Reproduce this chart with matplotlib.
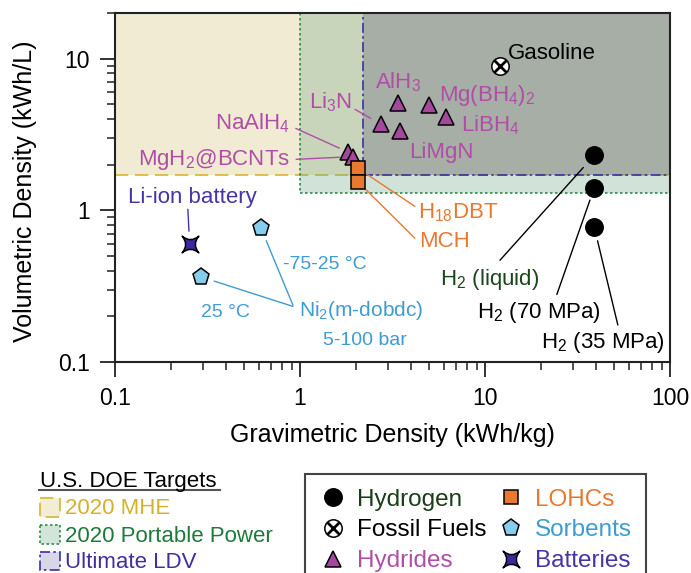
import numpy as np
import matplotlib
matplotlib.use('Agg')
import matplotlib.pyplot as plt
from matplotlib.patches import Rectangle
from matplotlib.path import Path
from matplotlib.lines import Line2D
from matplotlib.legend_handler import HandlerTuple
from matplotlib.colors import to_rgba
from matplotlib.ticker import FuncFormatter, NullFormatter, LogLocator

plt.rcParams['font.family'] = ['Liberation Sans', 'DejaVu Sans']
plt.rcParams['mathtext.default'] = 'regular'

# ---------------- data ----------------
x_lim = [0.1, 100]
y_lim = [0.1, 20]
x_ticks = [0.1, 1, 10, 100]
y_ticks = [0.1, 1, 10]

target_names = ['2020 MHE', '2020 Portable Power', 'Ultimate LDV']
target_grav = [0.1, 1.0, 2.2]
target_vol = [1.7, 1.3, 1.7]

hydrogen_names = ['H$_2$ (liquid)', 'H$_2$ (70 MPa)', 'H$_2$ (35 MPa)']
hydrogen_grav = [38.9, 38.9, 38.9]
hydrogen_vol = [2.30, 1.40, 0.78]

fossil_names = ['Gasoline']
fossil_grav = [12.0]
fossil_vol = [8.9]

hydride_names = ['AlH$_3$', 'Mg(BH$_4$)$_2$', 'LiBH$_4$', 'LiMgN', 'Li$_3$N',
                 'NaAlH$_4$', 'MgH$_2$@BCNTs']
hydride_grav = [3.37, 4.98, 6.17, 3.47, 2.74, 1.82, 1.93]
hydride_vol = [5.07, 4.94, 4.13, 3.33, 3.69, 2.42, 2.26]

lohc_names = ['H$_{18}$DBT', 'MCH']
lohc_grav = [2.06, 2.06]
lohc_vol = [1.89, 1.54]

sorbent_names = ['-75-25 °C', '25 °C']
sorbent_grav = [0.614, 0.292]
sorbent_vol = [0.769, 0.364]
sorbent_material = 'Ni$_2$(m-dobdc)'
sorbent_pressure = '5-100 bar'

battery_names = ['Li-ion battery']
battery_grav = [0.253]
battery_vol = [0.599]

legend_names = ['Hydrogen', 'Fossil Fuels', 'Hydrides', 'LOHCs', 'Sorbents', 'Batteries']

# ---------------- styles ----------------
c_hyd_m = '#A5479D'; c_hyd_t = '#B04EA7'
c_lohc = '#E8792F'
c_sorb_m = '#86CDEE'; c_sorb_t = '#3E9CD0'
c_bat_m = '#3A2A9A'; c_bat_t = '#4536A6'
c_h2liq = '#1C461C'
region_face = ['#D7C073', '#69A580', '#5A567B']
region_edge = ['#D6B62E', '#2E8B4E', '#3833A0']
region_ls = [(0, (8, 4)), (0, (1.5, 1.5)), (0, (6, 2, 1.5, 2))]
legend_patch_face = ['#F3EDD6', '#D2E5DA', '#D9D6EA']
legend_text_col = ['#D4B12A', '#1E7A3A', '#3F30A0']

# concave 4-point star marker
star_path = Path(
    [(-1, 1), (0, 0.15), (1, 1), (0.15, 0), (1, -1), (0, -0.15), (-1, -1), (-0.15, 0), (-1, 1), (-1, 1)],
    [Path.MOVETO, Path.CURVE3, Path.CURVE3, Path.CURVE3, Path.CURVE3,
     Path.CURVE3, Path.CURVE3, Path.CURVE3, Path.CURVE3, Path.CLOSEPOLY])

W, H = 691, 573
fig = plt.figure(figsize=(W / 100, H / 100), dpi=100)
ax = fig.add_axes([115 / W, 1 - 362 / H, 555 / W, 349 / H])
ax.set_xscale('log'); ax.set_yscale('log')
ax.set_xlim(x_lim); ax.set_ylim(y_lim)

# target regions
for g, v, fc, ec, ls in zip(target_grav, target_vol, region_face, region_edge, region_ls):
    ax.add_patch(Rectangle((g, v), x_lim[1] - g, y_lim[1] - v,
                           facecolor=to_rgba(fc, 0.3), edgecolor=ec, linestyle=ls,
                           lw=1.2, zorder=1))

mk = dict(ls='none', mec='black', mew=1.1, zorder=6)
ax.plot(hydrogen_grav, hydrogen_vol, marker='o', ms=12.5, mfc='black', **mk)
ax.plot(fossil_grav, fossil_vol, marker='o', ms=12.5, mfc='white', **mk)
ax.plot(fossil_grav, fossil_vol, ls='none', marker='x', ms=8, mew=2, color='black', zorder=7)
ax.plot(hydride_grav, hydride_vol, marker='^', ms=12, mfc=c_hyd_m, **mk)
ax.plot(lohc_grav, lohc_vol, marker='s', ms=10.5, mfc=c_lohc, **mk)
ax.plot(sorbent_grav, sorbent_vol, marker='p', ms=12.5, mfc=c_sorb_m, **mk)
ax.plot(battery_grav, battery_vol, marker=star_path, ms=12, mfc=c_bat_m, **mk)


def label(text, x, y, dx, dy, color, size=16, ha='left'):
    ax.annotate(text, xy=(x, y), xytext=(dx, dy), textcoords='offset pixels',
                ha=ha, va='baseline', color=color, fontsize=size, zorder=8)


def leader(x, y, near, far, color):
    d = np.hypot(*near) * 0.72
    ax.annotate('', xy=(x, y), xytext=far, textcoords='offset pixels',
                arrowprops=dict(arrowstyle='-', color=color, lw=1.0,
                                shrinkA=0, shrinkB=d), zorder=4)


# fossil
label(fossil_names[0], fossil_grav[0], fossil_vol[0], 8, 7, 'black')

# hydrides
hyd_off = [(0, 15.3, 'center'), (10, 3.7, 'left'), (14.8, -14.5, 'left'),
           (9, -27, 'left'), (-29, 16.3, 'right'), (-58.3, 22.4, 'right'),
           (-62.7, -8, 'right')]
for n, g, v, (dx, dy, ha) in zip(hydride_names, hydride_grav, hydride_vol, hyd_off):
    label(n, g, v, dx, dy, c_hyd_t, ha=ha)
hyd_lines = {4: ((-10, 6), (-26, 15)), 5: ((-8.3, 4.7), (-52.3, 23.7)),
             6: ((-12.7, -4.7), (-56.7, -2.7))}
for i, (near, far) in hyd_lines.items():
    leader(hydride_grav[i], hydride_vol[i], near, far, c_hyd_t)

# LOHCs
lohc_off = [(59.8, -49.7), (60.8, -65)]
lohc_lines = [((8.8, -6), (56.8, -38)), ((6.8, -7.3), (56.8, -56.3))]
for n, g, v, (dx, dy), (near, far) in zip(lohc_names, lohc_grav, lohc_vol, lohc_off, lohc_lines):
    label(n, g, v, dx, dy, c_lohc)
    leader(g, v, near, far, c_lohc)

# battery
label(battery_names[0], battery_grav[0], battery_vol[0], -61.7, 41.1, c_bat_t)
leader(battery_grav[0], battery_vol[0], (-1.7, 12.8), (-1.7, 34.8), c_bat_t)

# sorbents
sorb_off = [(22.2, -41), (0, -40.5)]
sorb_lines = [((6.2, -12.7), (32.2, -77.7)), ((10.8, -8.5), (91.8, -29.5))]
for n, g, v, (dx, dy), (near, far) in zip(sorbent_names, sorbent_grav, sorbent_vol, sorb_off, sorb_lines):
    label(n, g, v, dx, dy, c_sorb_t, size=14)
    leader(g, v, near, far, c_sorb_t)
label(sorbent_material, sorbent_grav[0], sorbent_vol[0], 38.2, -88.7, c_sorb_t, size=15)
label(sorbent_pressure, sorbent_grav[0], sorbent_vol[0], 62.2, -117, c_sorb_t, size=14)

# hydrogen
h2_off = [(-154.2, -129.1), (-117.3, -130), (-53.3, -121)]
h2_lines = [((-14.2, -7.8), (-94.2, -104.8)), ((-7.3, -10.3), (-37.3, -106.3)),
            ((2.7, -14.3), (23.7, -98.3))]
h2_col = [c_h2liq, 'black', 'black']
for n, g, v, (dx, dy), (near, far), c in zip(hydrogen_names, hydrogen_grav, hydrogen_vol, h2_off, h2_lines, h2_col):
    label(n, g, v, dx, dy, c)
    leader(g, v, near, far, 'black')

# axes styling
for s in ax.spines.values():
    s.set_linewidth(1.5); s.set_color('#222222'); s.set_zorder(9)
ax.set_xticks(x_ticks); ax.set_yticks(y_ticks)
fmt = FuncFormatter(lambda v, p: f'{v:g}')
ax.xaxis.set_major_formatter(fmt); ax.yaxis.set_major_formatter(fmt)
ax.xaxis.set_minor_locator(LogLocator(base=10, subs=np.arange(2, 10)))
ax.yaxis.set_minor_locator(LogLocator(base=10, subs=np.arange(2, 10)))
ax.xaxis.set_minor_formatter(NullFormatter()); ax.yaxis.set_minor_formatter(NullFormatter())
ax.tick_params(which='major', direction='out', length=11, width=1.3, labelsize=16.5,
               pad=7, top=False, right=False, color='#222222')
ax.tick_params(which='minor', direction='out', length=5.5, width=1.1, top=False,
               right=False, color='#222222')
ax.set_xlabel('Gravimetric Density (kWh/kg)', fontsize=18)
ax.set_ylabel('Volumetric Density (kWh/L)', fontsize=18)
ax.xaxis.set_label_coords(0.5, -0.175)
ax.yaxis.set_label_coords(-0.14, 0.49)

# ---------- left legend (DOE targets), drawn in figure pixels ----------
lax = fig.add_axes([0, 0, 1, 1], zorder=-1)
lax.set_xlim(0, W); lax.set_ylim(H, 0); lax.axis('off')
lax.text(40, 486.7, 'U.S. DOE Targets', fontsize=16, ha='left', va='baseline')
lax.plot([39, 220], [489.5, 489.5], color='#555555', lw=1.5)
rows_top = [498.3, 525, 551.7]
rows_base = [514, 541.7, 568.3]
for name, top, base, fc, ec, ls, tc in zip(target_names, rows_top, rows_base, legend_patch_face,
                                            region_edge, region_ls, legend_text_col):
    lax.add_patch(Rectangle((40, top), 20, 18.5, facecolor=fc, edgecolor=ec, linestyle=ls, lw=1.2))
    lax.text(65, base, name, fontsize=16, color=tc, ha='left', va='baseline')

# ---------- right legend (categories) ----------
h_hyd = Line2D([], [], marker='o', ms=12.5, mfc='black', ls='none', mec='black', mew=1.1)
h_fos = (Line2D([], [], marker='o', ms=12.5, mfc='white', ls='none', mec='black', mew=1.1),
         Line2D([], [], marker='x', ms=8, mew=2, color='black', ls='none'))
h_hyr = Line2D([], [], marker='^', ms=12, mfc=c_hyd_m, ls='none', mec='black', mew=1.1)
h_loh = Line2D([], [], marker='s', ms=10.5, mfc=c_lohc, ls='none', mec='black', mew=1.1)
h_sor = Line2D([], [], marker='p', ms=12.5, mfc=c_sorb_m, ls='none', mec='black', mew=1.1)
h_bat = Line2D([], [], marker=star_path, ms=12, mfc=c_bat_m, ls='none', mec='black', mew=1.1)
leg = fig.legend([h_hyd, h_fos, h_hyr, h_loh, h_sor, h_bat], legend_names,
                 loc='upper left', bbox_to_anchor=(305 / W, 1 - 474 / H), ncol=2,
                 fontsize=17.5, frameon=True, fancybox=False, edgecolor='#444444',
                 framealpha=1, borderaxespad=0, borderpad=0.6, handlelength=1.1,
                 handletextpad=0.44, columnspacing=0.45, labelspacing=0.36,
                 labelcolor=['#1A3D1A', 'black', c_hyd_t, c_lohc, c_sorb_t, c_bat_t],
                 handler_map={tuple: HandlerTuple(ndivide=1)})
leg.get_frame().set_linewidth(1.5)

fig.savefig('out.png', dpi=100)
